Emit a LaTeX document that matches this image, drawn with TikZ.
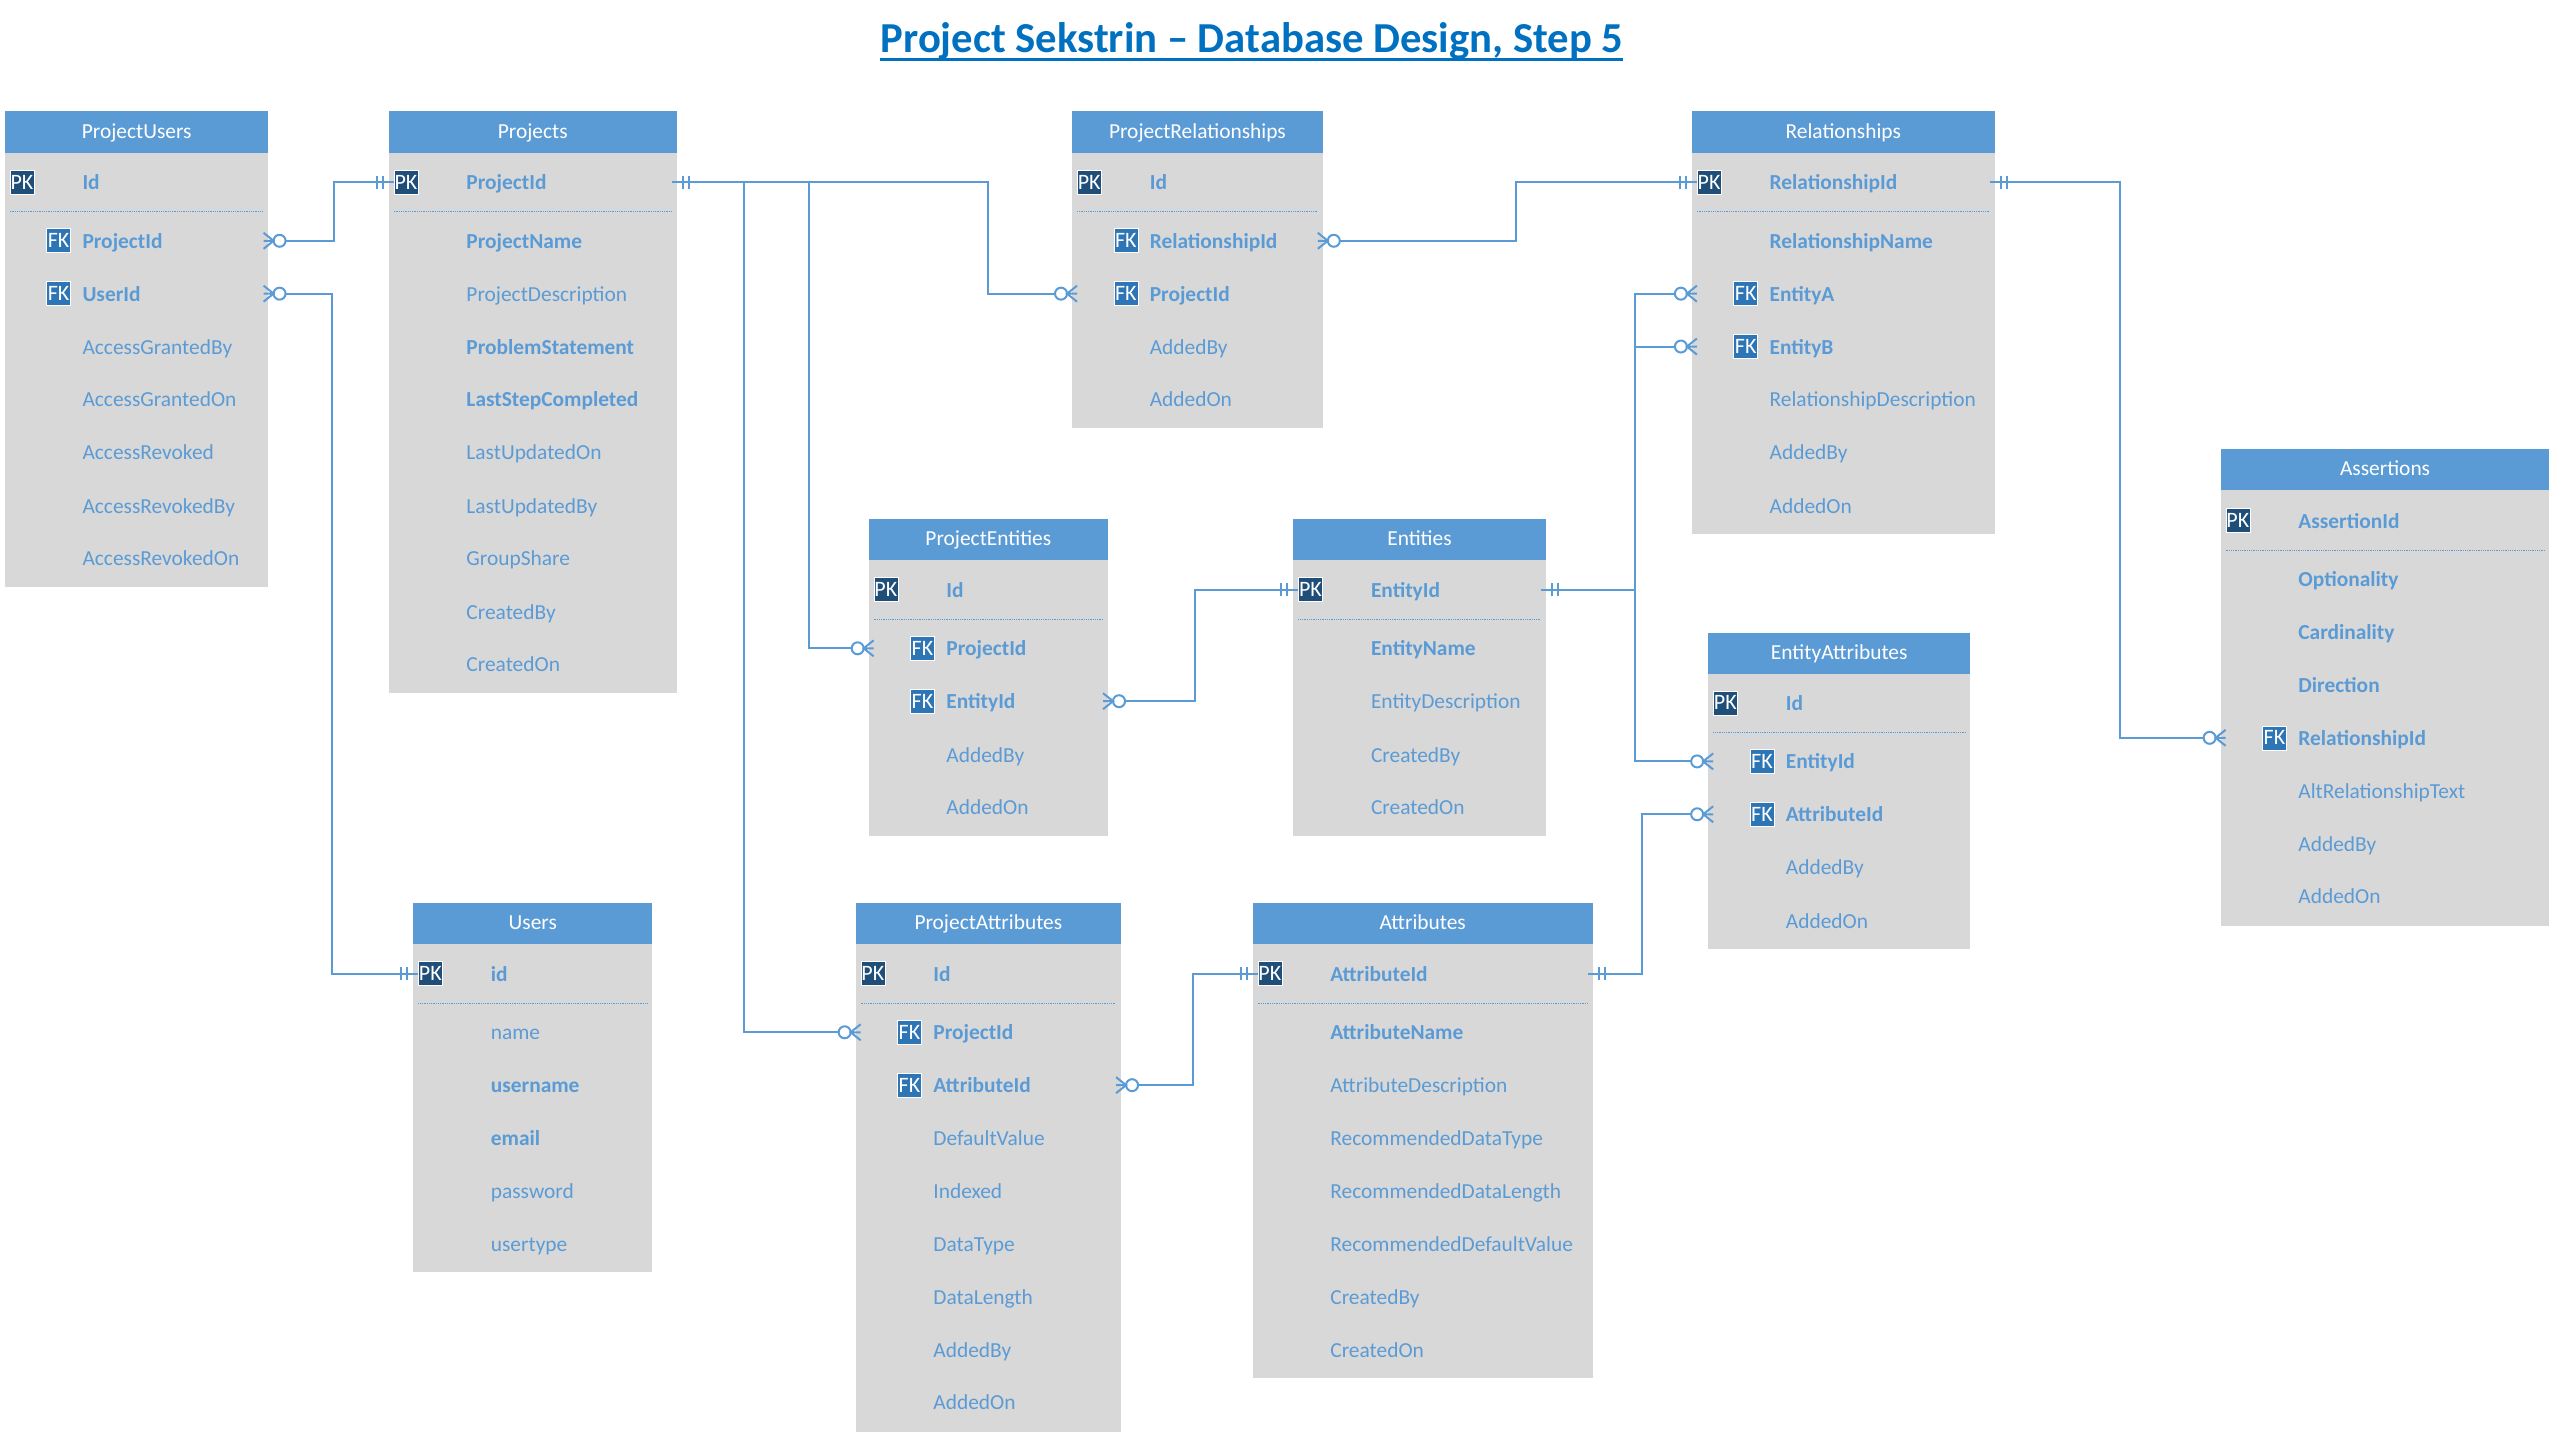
\documentclass[tikz,border=0pt]{standalone}
\usepackage{fontspec}
\setmainfont{Carlito}
\usetikzlibrary{arrows.meta,fit}
\definecolor{erblue}{HTML}{5B9BD5}
\definecolor{erbody}{HTML}{D8D8D8}
\definecolor{erpk}{HTML}{1F4E79}
\definecolor{erfk}{HTML}{2E75B6}
\definecolor{ertitle}{HTML}{0070C0}
\pgfdeclarearrow{name=ZeroMany,cache=false,
  setup code={\pgfarrowssettipend{0pt}\pgfarrowssetlineend{-22pt}\pgfarrowssetvisualbackend{-22pt}\pgfarrowssetbackend{-22pt}},
  drawing code={
    \pgfsetmiterjoin
    \pgfpathmoveto{\pgfqpoint{0pt}{8pt}}\pgfpathlineto{\pgfqpoint{-10pt}{0pt}}\pgfpathlineto{\pgfqpoint{0pt}{-8pt}}
    \pgfpathmoveto{\pgfqpoint{0pt}{0pt}}\pgfpathlineto{\pgfqpoint{-11pt}{0pt}}
    \pgfusepathqstroke
    \pgfpathcircle{\pgfqpoint{-16pt}{0pt}}{6pt}\pgfusepathqstroke}}
\pgfdeclarearrow{name=OneMark,cache=false,
  setup code={\pgfarrowssettipend{0pt}\pgfarrowssetlineend{0pt}\pgfarrowssetvisualbackend{-18pt}\pgfarrowssetbackend{-18pt}},
  drawing code={
    \pgfpathmoveto{\pgfqpoint{-11pt}{6.5pt}}\pgfpathlineto{\pgfqpoint{-11pt}{-6.5pt}}
    \pgfpathmoveto{\pgfqpoint{-17pt}{6.5pt}}\pgfpathlineto{\pgfqpoint{-17pt}{-6.5pt}}
    \pgfusepathqstroke}}
\tikzset{
  bodybox/.style={fill=erbody,inner sep=0pt,draw=none},
  headbox/.style={fill=erblue,inner sep=0pt,draw=none},
  headtext/.style={inner sep=0pt,text=white,text height=18pt,text depth=5pt,font=\fontsize{21.4}{24}\selectfont},
  rowplain/.style={anchor=west,inner sep=0pt,text=erblue,text height=20pt,text depth=5pt,font=\fontsize{21.4}{24}\selectfont},
  rowbold/.style={rowplain,font=\fontsize{21.4}{24}\selectfont\bfseries},
  keybadge/.style={draw=white,line width=.6pt,inner sep=0pt,minimum width=24pt,minimum height=24pt,text=white,font=\fontsize{22}{24}\selectfont},
  pkbadge/.style={keybadge,fill=erpk},
  fkbadge/.style={keybadge,fill=erfk},
  sepline/.style={draw=erblue,line width=.8pt,densely dotted},
  erlink/.style={draw=erblue,line width=2pt},
  manyone/.style={erlink,arrows={ZeroMany[]-OneMark[]}},
  onemany/.style={erlink,arrows={OneMark[]-ZeroMany[]}},
}
% name, left, right, top, header bottom, bottom, title
\newcommand\ertable[7]{%
  \node[bodybox,fit={(#2,#5)(#3,#6)}] (#1-body) {};
  \node[headbox,fit={(#2,#4)(#3,#5)}] (#1-head) {};
  \node[headtext] (#1-title) at (#1-head.center) {#7};
  \coordinate (#1-w) at ({#2+3},#4);
  \coordinate (#1-e) at ({#3-3},#4);
  \coordinate (#1-l) at (#2,#4);}
% table, y
\newcommand\ersep[2]{\draw[sepline] (#1-w |- 0,#2) -- (#1-e |- 0,#2);}
% table, row name, y, text (plain / bold / pk / fk)
\newcommand\rowp[4]{\path (#1-l |- 0,#3) ++(47.6,0) node[rowplain] (#1-#2) {#4};}
\newcommand\rowb[4]{\path (#1-l |- 0,#3) ++(47.6,0) node[rowbold] (#1-#2) {#4};}
\newcommand\rowk[4]{\rowb{#1}{#2}{#3}{#4}\path (#1-l |- 0,#3) ++(10.5,0) node[pkbadge] (#1-#2-key) {PK};
  \pgfmathsetmacro\ersepy{#3+18}\ersep{#1}{\ersepy}}
\newcommand\rowf[4]{\rowb{#1}{#2}{#3}{#4}\path (#1-l |- 0,#3) ++(33,0) node[fkbadge] (#1-#2-key) {FK};}
% style, edge A, row A, bend x, edge B, row B
\newcommand\erconn[6]{%
  \coordinate (la) at (#2 |- #3);
  \coordinate (lb) at (#5 |- #6);
  \coordinate (lc) at (#4,0);
  \draw[#1] (la) -- (la -| lc) -- (lb -| lc) -- (lb);}
\begin{document}
\begin{tikzpicture}[x=1.62691pt,y=-1.62691pt]
\useasboundingbox (0,0) rectangle (1568,881);
\node[inner sep=0pt,text=ertitle,font=\fontsize{42.7}{46}\selectfont\bfseries] (title) at (769.5,25) {Project Sekstrin – Database Design, Step 5};
\draw[ertitle,line width=2.8pt] (title.west |- 0,36.5) -- (title.east |- 0,36.5);

\ertable{pu}{3}{165}{68}{94}{361}{ProjectUsers}
\rowk{pu}{Id}{112}{Id}
\rowf{pu}{ProjectId}{148}{ProjectId}
\rowf{pu}{UserId}{180.5}{UserId}
\rowp{pu}{AccessGrantedBy}{213}{AccessGrantedBy}
\rowp{pu}{AccessGrantedOn}{245.5}{AccessGrantedOn}
\rowp{pu}{AccessRevoked}{278}{AccessRevoked}
\rowp{pu}{AccessRevokedBy}{311}{AccessRevokedBy}
\rowp{pu}{AccessRevokedOn}{343}{AccessRevokedOn}

\ertable{pj}{239}{416}{68}{94}{426}{Projects}
\rowk{pj}{ProjectId}{112}{ProjectId}
\rowb{pj}{ProjectName}{148}{ProjectName}
\rowp{pj}{ProjectDescription}{180.5}{ProjectDescription}
\rowb{pj}{ProblemStatement}{213}{ProblemStatement}
\rowb{pj}{LastStepCompleted}{245.5}{LastStepCompleted}
\rowp{pj}{LastUpdatedOn}{278}{LastUpdatedOn}
\rowp{pj}{LastUpdatedBy}{311}{LastUpdatedBy}
\rowp{pj}{GroupShare}{343}{GroupShare}
\rowp{pj}{CreatedBy}{376}{CreatedBy}
\rowp{pj}{CreatedOn}{408}{CreatedOn}

\ertable{pr}{659}{813}{68}{94}{263}{ProjectRelationships}
\rowk{pr}{Id}{112}{Id}
\rowf{pr}{RelationshipId}{148}{RelationshipId}
\rowf{pr}{ProjectId}{180.5}{ProjectId}
\rowp{pr}{AddedBy}{213}{AddedBy}
\rowp{pr}{AddedOn}{245.5}{AddedOn}

\ertable{re}{1040}{1226}{68}{94}{328}{Relationships}
\rowk{re}{RelationshipId}{112}{RelationshipId}
\rowb{re}{RelationshipName}{148}{RelationshipName}
\rowf{re}{EntityA}{180.5}{EntityA}
\rowf{re}{EntityB}{213}{EntityB}
\rowp{re}{RelationshipDescription}{245.5}{RelationshipDescription}
\rowp{re}{AddedBy}{278}{AddedBy}
\rowp{re}{AddedOn}{311}{AddedOn}

\ertable{pe}{534}{681}{319}{344}{514}{ProjectEntities}
\rowk{pe}{Id}{362.5}{Id}
\rowf{pe}{ProjectId}{398.5}{ProjectId}
\rowf{pe}{EntityId}{431}{EntityId}
\rowp{pe}{AddedBy}{464}{AddedBy}
\rowp{pe}{AddedOn}{496}{AddedOn}

\ertable{en}{795}{950}{319}{344}{514}{Entities}
\rowk{en}{EntityId}{362.5}{EntityId}
\rowb{en}{EntityName}{398.5}{EntityName}
\rowp{en}{EntityDescription}{431}{EntityDescription}
\rowp{en}{CreatedBy}{464}{CreatedBy}
\rowp{en}{CreatedOn}{496}{CreatedOn}

\ertable{ea}{1050}{1211}{389}{414}{583}{EntityAttributes}
\rowk{ea}{Id}{432}{Id}
\rowf{ea}{EntityId}{468}{EntityId}
\rowf{ea}{AttributeId}{500.5}{AttributeId}
\rowp{ea}{AddedBy}{533}{AddedBy}
\rowp{ea}{AddedOn}{566}{AddedOn}

\ertable{as}{1365}{1567}{276}{301}{569}{Assertions}
\rowk{as}{AssertionId}{320}{AssertionId}
\rowb{as}{Optionality}{356}{Optionality}
\rowb{as}{Cardinality}{388.5}{Cardinality}
\rowb{as}{Direction}{421}{Direction}
\rowf{as}{RelationshipId}{453.5}{RelationshipId}
\rowp{as}{AltRelationshipText}{486}{AltRelationshipText}
\rowp{as}{AddedBy}{518.5}{AddedBy}
\rowp{as}{AddedOn}{551}{AddedOn}

\ertable{us}{254}{401}{555}{580}{782}{Users}
\rowk{us}{id}{598.5}{id}
\rowp{us}{name}{634.5}{name}
\rowb{us}{username}{667}{username}
\rowb{us}{email}{699.5}{email}
\rowp{us}{password}{732}{password}
\rowp{us}{usertype}{764.5}{usertype}

\ertable{pa}{526}{689}{555}{580}{880}{ProjectAttributes}
\rowk{pa}{Id}{598.5}{Id}
\rowf{pa}{ProjectId}{634.5}{ProjectId}
\rowf{pa}{AttributeId}{667}{AttributeId}
\rowp{pa}{DefaultValue}{699.5}{DefaultValue}
\rowp{pa}{Indexed}{732}{Indexed}
\rowp{pa}{DataType}{764.5}{DataType}
\rowp{pa}{DataLength}{797}{DataLength}
\rowp{pa}{AddedBy}{829.5}{AddedBy}
\rowp{pa}{AddedOn}{862}{AddedOn}

\ertable{at}{770}{979}{555}{580}{847}{Attributes}
\rowk{at}{AttributeId}{598.5}{AttributeId}
\rowb{at}{AttributeName}{634.5}{AttributeName}
\rowp{at}{AttributeDescription}{667}{AttributeDescription}
\rowp{at}{RecommendedDataType}{699.5}{RecommendedDataType}
\rowp{at}{RecommendedDataLength}{732}{RecommendedDataLength}
\rowp{at}{RecommendedDefaultValue}{764.5}{RecommendedDefaultValue}
\rowp{at}{CreatedBy}{797}{CreatedBy}
\rowp{at}{CreatedOn}{829.5}{CreatedOn}

\erconn{manyone}{pu-e}{pu-ProjectId}{205}{pj-w}{pj-ProjectId}
\erconn{manyone}{pu-e}{pu-UserId}{204}{us-w}{us-id}
\erconn{onemany}{pj-e}{pj-ProjectId}{607}{pr-w}{pr-ProjectId}
\erconn{onemany}{pj-e}{pj-ProjectId}{497}{pe-w}{pe-ProjectId}
\erconn{onemany}{pj-e}{pj-ProjectId}{457}{pa-w}{pa-ProjectId}
\erconn{manyone}{pr-e}{pr-RelationshipId}{932}{re-w}{re-RelationshipId}
\erconn{onemany}{re-e}{re-RelationshipId}{1303}{as-w}{as-RelationshipId}
\erconn{manyone}{pe-e}{pe-EntityId}{734.5}{en-w}{en-EntityId}
\erconn{manyone}{pa-e}{pa-AttributeId}{733}{at-w}{at-AttributeId}
\erconn{onemany}{en-e}{en-EntityId}{1005}{re-w}{re-EntityA}
\erconn{onemany}{en-e}{en-EntityId}{1005}{re-w}{re-EntityB}
\erconn{onemany}{en-e}{en-EntityId}{1005}{ea-w}{ea-EntityId}
\erconn{onemany}{at-e}{at-AttributeId}{1009}{ea-w}{ea-AttributeId}
\end{tikzpicture}
\end{document}
